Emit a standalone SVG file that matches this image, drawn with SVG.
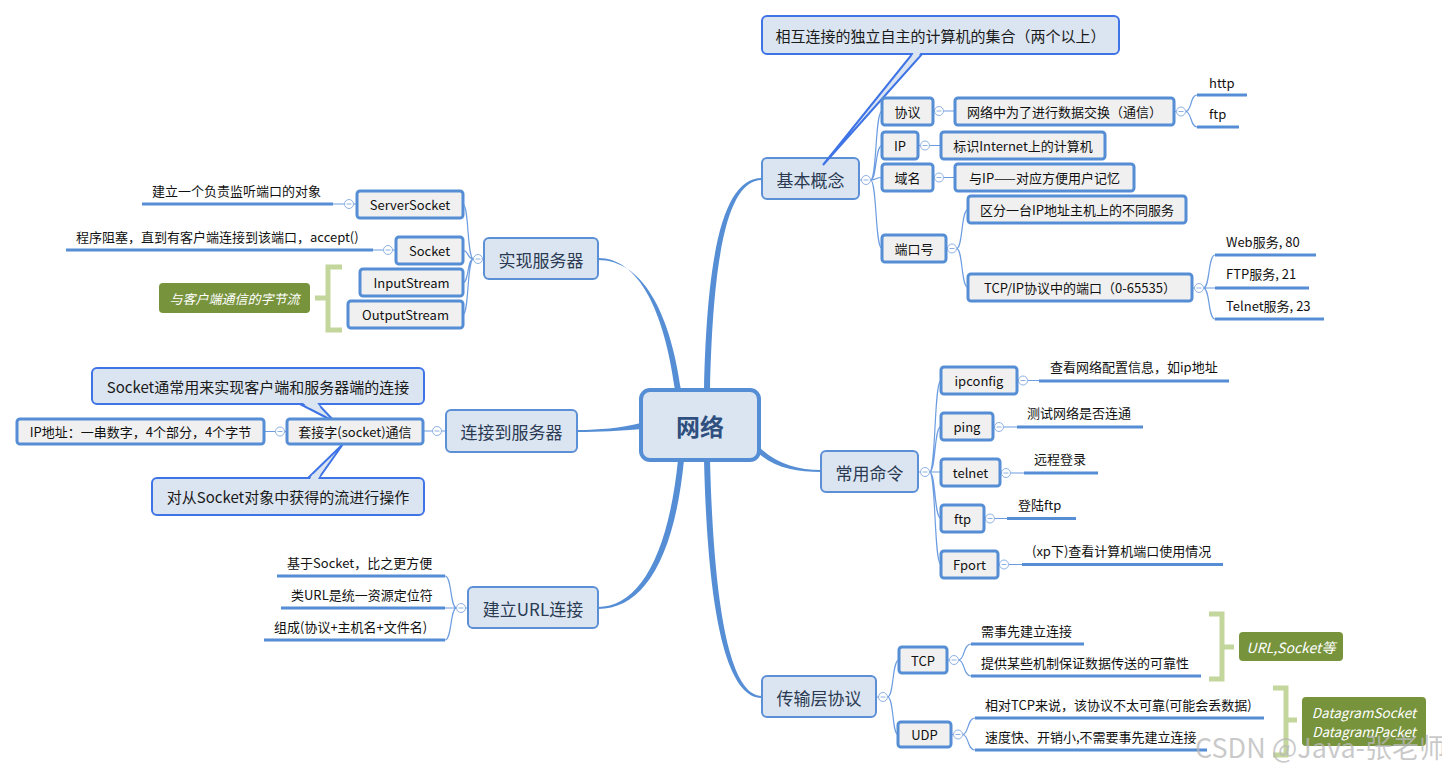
<svg xmlns="http://www.w3.org/2000/svg" width="1442" height="772" viewBox="0 0 1442 772">
<style>
text{font-family:"Noto Sans CJK SC","Noto Sans",sans-serif}
.root{fill:#dbe5f1;stroke:#558ed5;stroke-width:4}
.troot{font-size:24px;font-weight:bold;fill:#2f4f7f;text-anchor:middle;dominant-baseline:central}
.main{fill:#dbe5f1;stroke:#5b8fd6;stroke-width:2}
.box{fill:#f0f0f0;stroke:#558ed5;stroke-width:3}
.call{fill:#dbe5f1;stroke:#3f74e6;stroke-width:2}
.cover{fill:#dbe5f1}
.sub{fill:none;stroke:#6d9de0;stroke-width:1.2}
.ul{stroke:#558ed5;stroke-width:3}
.trunk{fill:#558ed5}
.t13{font-size:13px;fill:#111}
.c{text-anchor:middle;dominant-baseline:central}
.tm{font-size:17px;fill:#2a3a52}
.tc{font-size:15px;fill:#1a1a1a}
.gl{fill:#77933c}
.gt{font-size:13px;fill:#fff;font-style:italic}
.gt14{font-size:14px;fill:#fff;font-style:italic}
.gt13{font-size:13.5px;fill:#fff;font-style:italic}
.br{fill:none;stroke:#c3d69b;stroke-width:5}
.col circle{fill:#fff;stroke:#8eb1e3;stroke-width:1}
.col path{stroke:#8eb1e3;stroke-width:1}
</style>
<defs>
<g id="col" class="col"><circle r="4.5"/><path d="M-2.5,0H2.5"/></g>
</defs>

<g id="connectors">
<path class="trunk" d="M704,390 C707,253 723,178 762,178 L762,180 C727,180 713,257 710,390 Z"/>
<path class="trunk" d="M675,390 C664,309 638,258 598,258 L598,260 C642,260 670,311 681,390 Z"/>
<path class="trunk" d="M641,423 C620,428 600,430 577,430 L577,432 C600,432 620,431 641,429 Z"/>
<path class="trunk" d="M759,447 C777,464 798,470 821,470 L821,472 C796,472 773,468 756,451 Z"/>
<path class="trunk" d="M678,460 C668,558 638,607 598,607 L598,609 C642,609 674,562 684,460 Z"/>
<path class="trunk" d="M704,460 C708,622 728,698 762,698 L762,696 C732,696 714,618 710,460 Z"/>

<path class="sub" d="M858,180H861.5 M870.5,180 C877,180 875,111 882,111 M870.5,180 C877,180 875,145.5 882,145.5 M870.5,180 C877,180 875,177.5 882,177.5 M870.5,180 C877,180 875,248.5 882,248.5"/>
<path class="sub" d="M933,111H934.5 M943.5,111H955 M918,145.5H920.5 M929.5,145.5H941 M933,177.5H934.5 M943.5,177.5H955"/>
<path class="sub" d="M946,248.5H947.5 M956.5,248.5 C963,248.5 961,209.5 968,209.5 M956.5,248.5 C963,248.5 961,287.5 968,287.5"/>
<path class="sub" d="M1174,111.5H1176.5 M1185.5,111.5 C1192,111.5 1190,95 1197,95 M1185.5,111.5 C1192,111.5 1190,127 1197,127"/>
<path class="sub" d="M1192,288H1194.5 M1203.5,288 C1210,288 1208,255 1215,255 M1203.5,288H1215 M1203.5,288 C1210,288 1208,319 1215,319"/>

<path class="sub" d="M484,259H482.5 M473.5,259 C467,259 469,204.5 463,204.5 M473.5,259 C467,259 469,250.5 463,250.5 M473.5,259 C467,259 469,282.5 463,282.5 M473.5,259 C467,259 469,314.5 463,314.5"/>
<path class="sub" d="M357,204H353.5 M344.5,204H333 M396,250H392.5 M383.5,250H373"/>

<path class="sub" d="M446,431H441.5 M432.5,431H423 M287,431.5H284.5 M275.5,431.5H264"/>

<path class="sub" d="M918,472H920.5 M929.5,472 C936,472 934,380.5 941,380.5 M929.5,472 C936,472 934,426.5 941,426.5 M929.5,472H941 M929.5,472 C936,472 934,518.5 941,518.5 M929.5,472 C936,472 934,564.5 941,564.5"/>
<path class="sub" d="M1017,380.5H1018.5 M1027.5,380.5H1039 M993,427H994.5 M1003.5,427H1017 M1000,473H1001.5 M1010.5,473H1024 M984,518.5H985.5 M994.5,518.5H1007 M998,564.5H999.5 M1008.5,564.5H1022"/>

<path class="sub" d="M468,608H465.5 M456.5,608 C450,608 452,576 445,576 M456.5,608H445 M456.5,608 C450,608 452,640 445,640"/>

<path class="sub" d="M876,697H878.5 M887.5,697 C894,697 892,660 899,660 M887.5,697 C894,697 892,734.5 898,734.5"/>
<path class="sub" d="M947,660H949.5 M958.5,660 C965,660 963,644 971,644 M958.5,660 C965,660 963,676 971,676"/>
<path class="sub" d="M951,734.5H953.5 M962.5,734.5 C969,734.5 967,718 975,718 M962.5,734.5 C969,734.5 967,750 975,750"/>

<use href="#col" x="866" y="180"/>
<use href="#col" x="939" y="111"/>
<use href="#col" x="925" y="145.5"/>
<use href="#col" x="939" y="177.5"/>
<use href="#col" x="952" y="248.5"/>
<use href="#col" x="1181" y="111.5"/>
<use href="#col" x="1199" y="288"/>
<use href="#col" x="478" y="259"/>
<use href="#col" x="349" y="204"/>
<use href="#col" x="388" y="250"/>
<use href="#col" x="437" y="431"/>
<use href="#col" x="280" y="431.5"/>
<use href="#col" x="925" y="472"/>
<use href="#col" x="1023" y="380.5"/>
<use href="#col" x="999" y="427"/>
<use href="#col" x="1006" y="473"/>
<use href="#col" x="990" y="518.5"/>
<use href="#col" x="1004" y="564.5"/>
<use href="#col" x="461" y="608"/>
<use href="#col" x="883" y="697"/>
<use href="#col" x="954" y="660"/>
<use href="#col" x="958" y="734.5"/>
</g>

<g id="n-root"><rect class="root" x="641" y="390" width="118" height="70" rx="9"/><text class="troot" x="700" y="425">网络</text></g>

<g id="n-jbgn"><rect class="main" x="762" y="158" width="97" height="41" rx="5"/><text class="tm c" x="810.5" y="179">基本概念</text></g>
<g id="n-sxfwq"><rect class="main" x="484" y="238" width="114" height="41" rx="5"/><text class="tm c" x="541" y="259">实现服务器</text></g>
<g id="n-ljdfwq"><rect class="main" x="446" y="410" width="131" height="42" rx="5"/><text class="tm c" x="511.5" y="431">连接到服务器</text></g>
<g id="n-cyml"><rect class="main" x="821" y="451" width="97" height="41" rx="5"/><text class="tm c" x="869.5" y="472">常用命令</text></g>
<g id="n-url"><rect class="main" x="468" y="587" width="130" height="41" rx="5"/><text class="tm c" x="533" y="608">建立URL连接</text></g>
<g id="n-csc"><rect class="main" x="762" y="676" width="114" height="41" rx="5"/><text class="tm c" x="819" y="697">传输层协议</text></g>

<g id="n-callout1">
<polygon class="call" points="913,53 923,53 823,165"/>
<rect class="call" x="762" y="16" width="357" height="38" rx="5"/>
<polygon class="cover" points="914.5,51 921.5,51 918,57 911.5,57"/>
<text class="tc c" x="940.5" y="35">相互连接的独立自主的计算机的集合（两个以上）</text>
</g>
<g id="n-callout2">
<polygon class="call" points="300,404 318,404 335,422"/>
<rect class="call" x="92" y="368" width="332" height="36" rx="5"/>
<polygon class="cover" points="301.5,402 316.5,402 320.5,407.5 309,407.5"/>
<text class="tc c" x="258" y="386">Socket通常用来实现客户端和服务器端的连接</text>
</g>
<g id="n-callout3">
<polygon class="call" points="308,478 319,478 343,444"/>
<rect class="call" x="152" y="478" width="272" height="37" rx="5"/>
<polygon class="cover" points="309.5,480 317.5,480 320.5,474.5 312.5,474.5"/>
<text class="tc c" x="288" y="496.5">对从Socket对象中获得的流进行操作</text>
</g>

<g id="n-xy"><rect class="box" x="882" y="98" width="51" height="27" rx="3"/><text class="t13 c" x="907.5" y="111.5">协议</text></g>
<g id="n-ip"><rect class="box" x="882" y="132" width="36" height="27" rx="3"/><text class="t13 c" x="900" y="145.5">IP</text></g>
<g id="n-ym"><rect class="box" x="882" y="164" width="51" height="27" rx="3"/><text class="t13 c" x="907.5" y="177.5">域名</text></g>
<g id="n-dkh"><rect class="box" x="882" y="235" width="64" height="27" rx="3"/><text class="t13 c" x="914" y="248.5">端口号</text></g>
<g id="n-xy1"><rect class="box" x="955" y="98" width="219" height="27" rx="3"/><text class="t13 c" x="1064.5" y="111.5">网络中为了进行数据交换（通信）</text></g>
<g id="n-ip1"><rect class="box" x="941" y="132" width="164" height="27" rx="3"/><text class="t13 c" x="1023" y="145.5">标识Internet上的计算机</text></g>
<g id="n-ym1"><rect class="box" x="955" y="164" width="179" height="27" rx="3"/><text class="t13 c" x="1044.5" y="177.5">与IP——对应方便用户记忆</text></g>
<g id="n-dk1"><rect class="box" x="968" y="196" width="218" height="27" rx="3"/><text class="t13 c" x="1077" y="209.5">区分一台IP地址主机上的不同服务</text></g>
<g id="n-dk2"><rect class="box" x="968" y="274" width="224" height="27" rx="3"/><text class="t13 c" x="1080" y="287.5">TCP/IP协议中的端口（0-65535）</text></g>

<g id="n-ss"><rect class="box" x="357" y="191" width="106" height="27" rx="3"/><text class="t13 c" x="410" y="204.5">ServerSocket</text></g>
<g id="n-sk"><rect class="box" x="396" y="237" width="67" height="27" rx="3"/><text class="t13 c" x="429.5" y="250.5">Socket</text></g>
<g id="n-is"><rect class="box" x="360" y="269" width="103" height="27" rx="3"/><text class="t13 c" x="411.5" y="282.5">InputStream</text></g>
<g id="n-os"><rect class="box" x="348" y="301" width="115" height="27" rx="3"/><text class="t13 c" x="405.5" y="314.5">OutputStream</text></g>

<g id="n-ipaddr"><rect class="box" x="17" y="419" width="247" height="25" rx="3"/><text class="t13 c" x="140.5" y="431.5">IP地址：一串数字，4个部分，4个字节</text></g>
<g id="n-tjz"><rect class="box" x="287" y="419" width="136" height="25" rx="3"/><text class="t13 c" x="355" y="431.5">套接字(socket)通信</text></g>

<g id="n-ipconfig"><rect class="box" x="941" y="367" width="76" height="27" rx="3"/><text class="t13 c" x="979" y="380.5">ipconfig</text></g>
<g id="n-ping"><rect class="box" x="941" y="413" width="52" height="27" rx="3"/><text class="t13 c" x="967" y="426.5">ping</text></g>
<g id="n-telnet"><rect class="box" x="941" y="459" width="59" height="27" rx="3"/><text class="t13 c" x="970.5" y="472.5">telnet</text></g>
<g id="n-ftp"><rect class="box" x="941" y="505" width="43" height="27" rx="3"/><text class="t13 c" x="962.5" y="518.5">ftp</text></g>
<g id="n-fport"><rect class="box" x="941" y="551" width="57" height="27" rx="3"/><text class="t13 c" x="969.5" y="564.5">Fport</text></g>

<g id="n-tcp"><rect class="box" x="899" y="647" width="48" height="26" rx="3"/><text class="t13 c" x="923" y="660">TCP</text></g>
<g id="n-udp"><rect class="box" x="898" y="722" width="53" height="25" rx="3"/><text class="t13 c" x="924.5" y="734.5">UDP</text></g>

<g id="l-http"><line class="ul" x1="1197" y1="95" x2="1247" y2="95"/><text class="t13" x="1209" y="88">http</text></g>
<g id="l-ftp"><line class="ul" x1="1197" y1="127" x2="1239" y2="127"/><text class="t13" x="1209" y="119">ftp</text></g>
<g id="l-web"><line class="ul" x1="1215" y1="255" x2="1316" y2="255"/><text class="t13" x="1226" y="247">Web服务, 80</text></g>
<g id="l-ftp21"><line class="ul" x1="1215" y1="288" x2="1309" y2="288"/><text class="t13" x="1226" y="279">FTP服务, 21</text></g>
<g id="l-telnet23"><line class="ul" x1="1215" y1="319" x2="1324" y2="319"/><text class="t13" x="1226" y="311">Telnet服务, 23</text></g>

<g id="l-ipconfig"><line class="ul" x1="1039" y1="381" x2="1229" y2="381"/><text class="t13" x="1050" y="372">查看网络配置信息，如ip地址</text></g>
<g id="l-ping"><line class="ul" x1="1017" y1="427" x2="1143" y2="427"/><text class="t13" x="1027" y="418">测试网络是否连通</text></g>
<g id="l-telnet"><line class="ul" x1="1024" y1="473" x2="1098" y2="473"/><text class="t13" x="1034" y="464">远程登录</text></g>
<g id="l-ftp2"><line class="ul" x1="1007" y1="518.5" x2="1076" y2="518.5"/><text class="t13" x="1018" y="510">登陆ftp</text></g>
<g id="l-fport"><line class="ul" x1="1022" y1="564.5" x2="1223" y2="564.5"/><text class="t13" x="1032" y="556">(xp下)查看计算机端口使用情况</text></g>

<g id="l-tcp1"><line class="ul" x1="971" y1="644" x2="1084" y2="644"/><text class="t13" x="981" y="636">需事先建立连接</text></g>
<g id="l-tcp2"><line class="ul" x1="971" y1="676" x2="1201" y2="676"/><text class="t13" x="981" y="668">提供某些机制保证数据传送的可靠性</text></g>
<g id="l-udp1"><line class="ul" x1="975" y1="718" x2="1264" y2="718"/><text class="t13" x="985" y="710">相对TCP来说，该协议不太可靠(可能会丢数据)</text></g>
<g id="l-udp2"><line class="ul" x1="975" y1="750" x2="1207" y2="750"/><text class="t13" x="985" y="742">速度快、开销小,不需要事先建立连接</text></g>

<g id="l-ss"><line class="ul" x1="142" y1="204" x2="333" y2="204"/><text class="t13" x="152" y="196">建立一个负责监听端口的对象</text></g>
<g id="l-sk"><line class="ul" x1="66" y1="250" x2="373" y2="250"/><text class="t13" x="76" y="242">程序阻塞，直到有客户端连接到该端口，accept()</text></g>

<g id="l-url1"><line class="ul" x1="277" y1="576" x2="445" y2="576"/><text class="t13" x="287" y="568">基于Socket，比之更方便</text></g>
<g id="l-url2"><line class="ul" x1="281" y1="608" x2="445" y2="608"/><text class="t13" x="291" y="600">类URL是统一资源定位符</text></g>
<g id="l-url3"><line class="ul" x1="264" y1="640" x2="445" y2="640"/><text class="t13" x="274" y="632">组成(协议+主机名+文件名)</text></g>

<g id="s-stream">
<path class="br" d="M342,267H328V330H342 M328,298H315"/>
<rect class="gl" x="159" y="283" width="151" height="30" rx="4"/>
<text class="gt c" x="234.5" y="298">与客户端通信的字节流</text>
</g>
<g id="s-tcp">
<path class="br" d="M1209,614H1222V679H1209 M1222,647H1234"/>
<rect class="gl" x="1239" y="632" width="104" height="29" rx="4"/>
<text class="gt14 c" x="1291" y="646.5">URL,Socket等</text>
</g>
<g id="s-udp">
<path class="br" d="M1273,688H1286V755H1273 M1286,720H1297"/>
<rect class="gl" x="1302" y="697" width="124" height="49" rx="4"/>
<text class="gt13 c" x="1364" y="711.5">DatagramSocket</text>
<text class="gt13 c" x="1364" y="730.5">DatagramPacket</text>
</g>

<text x="1195" y="758" font-size="27" fill="#b8b8b8" fill-opacity="0.75">CSDN @Java-张老师</text>
</svg>
